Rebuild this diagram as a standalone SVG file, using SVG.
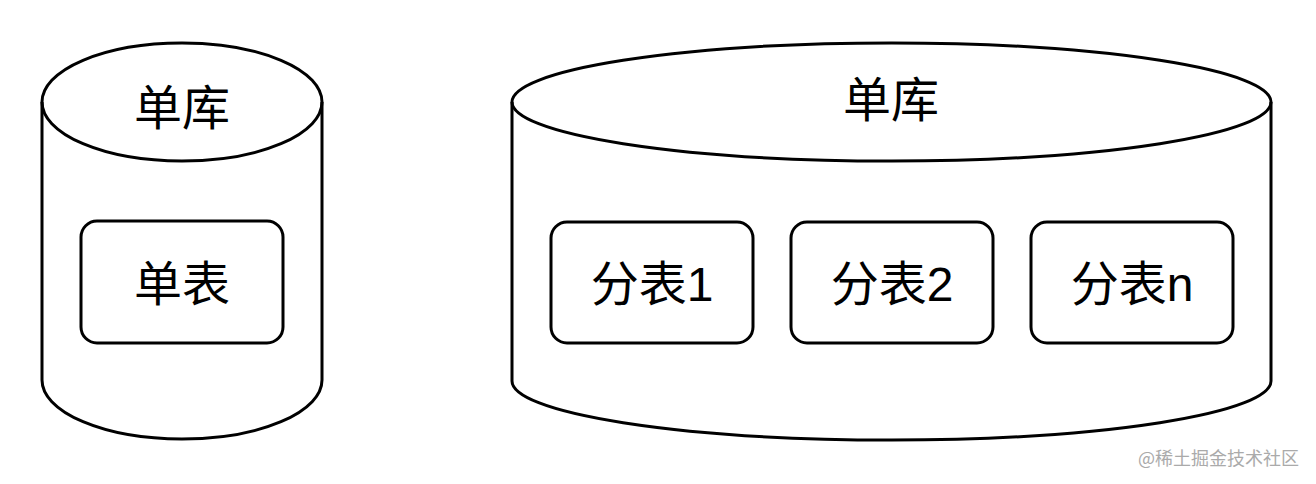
<svg xmlns="http://www.w3.org/2000/svg" width="1316" height="484" viewBox="0 0 1316 484">
<style>
.shape{fill:#fff;stroke:#000;stroke-width:3;stroke-linejoin:round}
.line{fill:none;stroke:#000;stroke-width:3}
.lbl{font-family:"Liberation Sans","Noto Sans CJK SC",sans-serif;font-size:48px;fill:#000;text-anchor:middle}
.wm{font-family:"Noto Sans CJK SC",sans-serif;font-size:18px;fill:#aaa;text-anchor:end}
</style>
<rect width="1316" height="484" fill="#fff"/>
<g id="db-left">
<path class="shape" d="M42,102 A140,59 0 0 1 322,102 L322,380 A140,59 0 0 1 42,380 Z"/>
<path class="line" d="M42,102 A140,59 0 0 0 322,102"/>
<text class="lbl" x="182" y="125">单库</text>
</g>
<g id="table-single">
<rect class="shape" x="81" y="221" width="202" height="122" rx="16"/>
<text class="lbl" x="182" y="301">单表</text>
</g>
<g id="db-right">
<path class="shape" d="M512,102 A379.5,59 0 0 1 1271,102 L1271,381 A379.5,59 0 0 1 512,381 Z"/>
<path class="line" d="M512,102 A379.5,59 0 0 0 1271,102"/>
<text class="lbl" x="891" y="117">单库</text>
</g>
<g id="table-1">
<rect class="shape" x="551" y="222" width="202" height="121" rx="16"/>
<text class="lbl" x="652" y="301">分表1</text>
</g>
<g id="table-2">
<rect class="shape" x="791" y="222" width="202" height="121" rx="16"/>
<text class="lbl" x="892" y="301">分表2</text>
</g>
<g id="table-n">
<rect class="shape" x="1031" y="222" width="202" height="121" rx="16"/>
<text class="lbl" x="1132" y="301">分表n</text>
</g>
<g id="connectors"></g>
<text class="wm" x="1299" y="465">@稀土掘金技术社区</text>
</svg>
